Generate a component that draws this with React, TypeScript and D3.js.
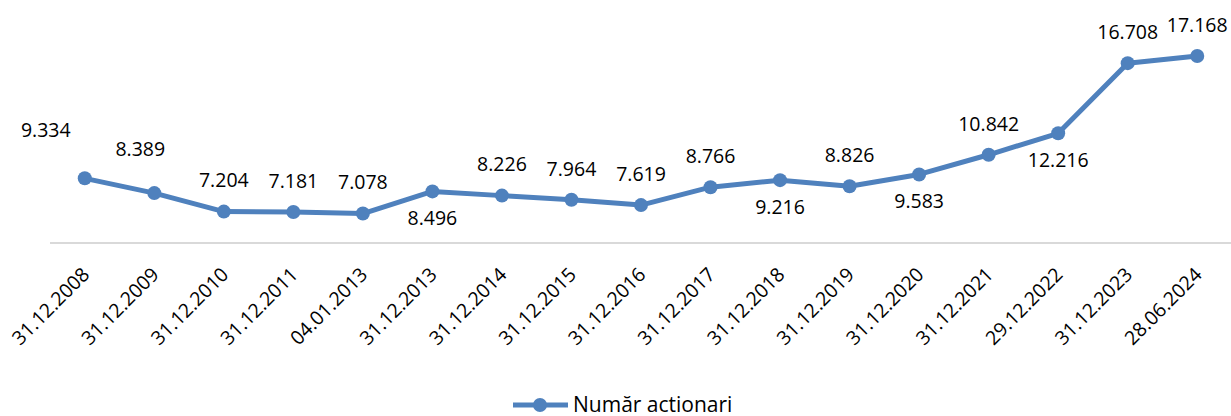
import { useRef, useEffect } from 'react';
import * as d3 from 'd3';

// date labels on the x axis
const dates = [
  '31.12.2008', '31.12.2009', '31.12.2010', '31.12.2011', '04.01.2013',
  '31.12.2013', '31.12.2014', '31.12.2015', '31.12.2016', '31.12.2017',
  '31.12.2018', '31.12.2019', '31.12.2020', '31.12.2021', '29.12.2022',
  '31.12.2023', '28.06.2024',
];

// number of shareholders
const actionari = [
  9334, 8389, 7204, 7181, 7078, 8496, 8226, 7964, 7619, 8766,
  9216, 8826, 9583, 10842, 12216, 16708, 17168,
];

// where the value label sits relative to the point
const labelSide = [
  'above', 'above', 'above', 'above', 'above', 'below', 'above', 'above', 'above', 'above',
  'below', 'above', 'below', 'above', 'below', 'above', 'above',
];

const seriesName = 'Număr actionari';

const W = 1231;
const H = 416;
const BLUE = '#4f81bd';
const FONT = '"Open Sans", "Noto Sans", sans-serif';

export default function App() {
  const svgRef = useRef<SVGSVGElement | null>(null);

  const draw = () => {
    const svg = d3.select(svgRef.current);
    svg.selectAll('*').remove();

    const fmt = (v: number) => d3.format(',')(v).replace(/,/g, '.');

    const x = d3.scaleBand<string>().domain(dates).range([50, 1232]);
    const cx = (d: string) => (x(d) ?? 0) + x.bandwidth() / 2;

    const y = d3.scaleLinear().domain([5000, 18000]).range([246, 43]);

    // baseline (horizontal axis line)
    svg.append('line')
      .attr('x1', 50)
      .attr('x2', W)
      .attr('y1', 243)
      .attr('y2', 243)
      .attr('stroke', '#d9d9d9')
      .attr('stroke-width', 2);

    // rotated date labels
    svg.append('g')
      .selectAll('text')
      .data(dates)
      .enter()
      .append('text')
      .attr('transform', d => `translate(${cx(d) + 1}, 271) rotate(-45)`)
      .attr('text-anchor', 'end')
      .attr('dy', '0.35em')
      .style('font-family', FONT)
      .style('font-size', '19.5px')
      .style('fill', '#000')
      .text(d => d);

    const pts = dates.map((d, i) => ({ d, v: actionari[i], side: labelSide[i], i }));

    const line = d3.line<{ d: string; v: number }>()
      .x(p => cx(p.d))
      .y(p => y(p.v));

    svg.append('path')
      .datum(pts)
      .attr('d', line)
      .attr('fill', 'none')
      .attr('stroke', BLUE)
      .attr('stroke-width', 5)
      .attr('stroke-linejoin', 'round');

    svg.append('g')
      .selectAll('circle')
      .data(pts)
      .enter()
      .append('circle')
      .attr('cx', p => cx(p.d))
      .attr('cy', p => y(p.v))
      .attr('r', 7)
      .attr('fill', BLUE);

    // the first two labels were dragged up-left in the original
    const nudge: Record<number, [number, number]> = { 0: [-39, -17], 1: [-14, -13] };

    svg.append('g')
      .selectAll('text')
      .data(pts)
      .enter()
      .append('text')
      .attr('x', p => cx(p.d) + (nudge[p.i]?.[0] ?? 0))
      .attr('y', p => y(p.v) + (p.side === 'above' ? -31 : 27) + (nudge[p.i]?.[1] ?? 0))
      .attr('text-anchor', 'middle')
      .attr('dy', '0.35em')
      .style('font-family', FONT)
      .style('font-size', '19.5px')
      .style('fill', '#000')
      .text(p => fmt(p.v));

    // legend
    const lg = svg.append('g').attr('transform', 'translate(540, 405)');
    lg.append('line')
      .attr('x1', -27)
      .attr('x2', 28)
      .attr('stroke', BLUE)
      .attr('stroke-width', 5);
    lg.append('circle').attr('r', 7).attr('fill', BLUE);
    lg.append('text')
      .attr('x', 33)
      .attr('y', 7)
      .style('font-family', FONT)
      .style('font-size', '21px')
      .style('fill', '#000')
      .text(seriesName);
  };

  useEffect(() => {
    draw();
  }, []);

  return (
    <svg
      ref={svgRef}
      width={W}
      height={H}
      style={{ position: 'absolute', left: 0, top: 0, background: '#fff' }}
    />
  );
}
